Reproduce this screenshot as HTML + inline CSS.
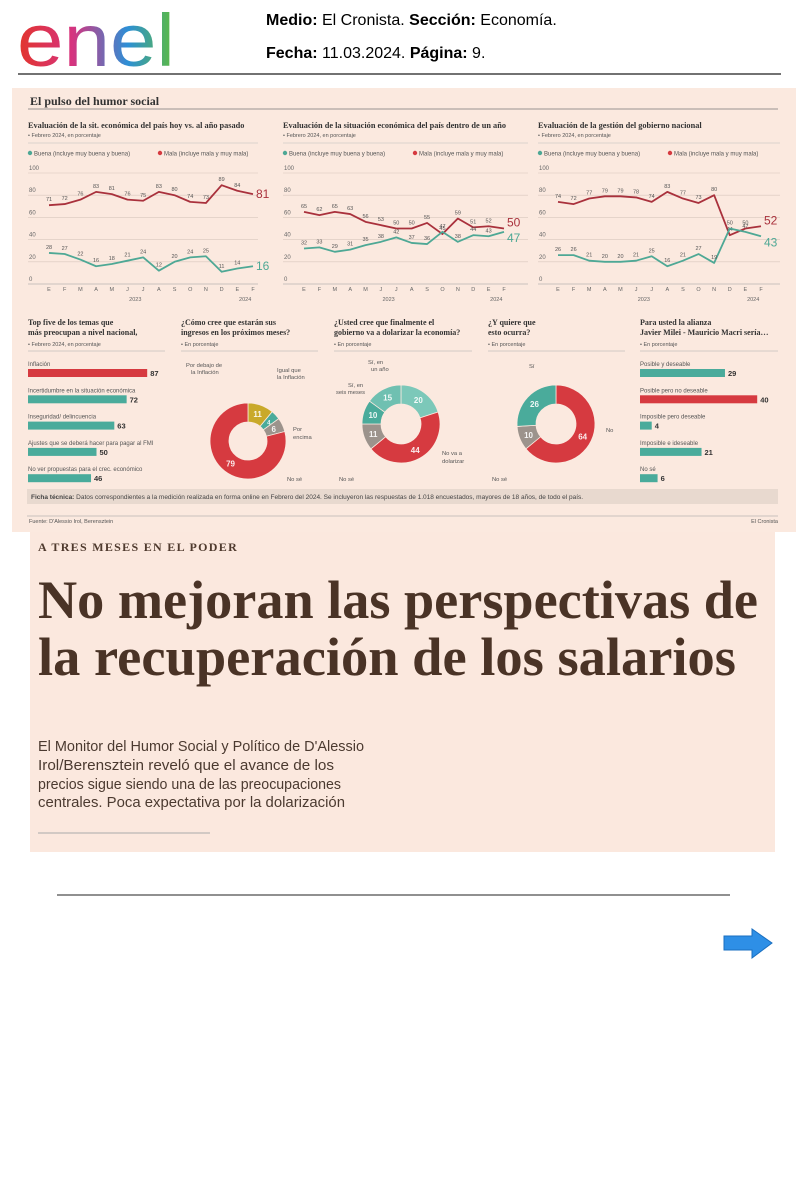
<!DOCTYPE html>
<html><head><meta charset="utf-8"><style>
html,body{margin:0;padding:0;background:#fff;}
body{width:800px;height:1200px;position:relative;overflow:hidden;font-family:"Liberation Sans",sans-serif;}
svg{position:absolute;left:0;top:0;}
</style></head><body>
<svg id="s" width="800" height="1200" viewBox="0 0 800 1200">
<defs>
<linearGradient id="eg" x1="0" x2="1" y1="0" y2="0">
<stop offset="0" stop-color="#e2352b"/><stop offset="0.35" stop-color="#d6337f"/><stop offset="0.7" stop-color="#2d8fd6"/><stop offset="1" stop-color="#5ebc3e"/></linearGradient>
</defs>
<g>
<text x="17" y="66" font-family="Liberation Sans, sans-serif" font-size="74" fill="url(#eg)" textLength="158" lengthAdjust="spacingAndGlyphs">enel</text>
<text x="266" y="25" font-size="16" fill="#000"><tspan font-weight="bold">Medio:</tspan> El Cronista.  <tspan font-weight="bold">Sección:</tspan> Economía.</text>
<text x="266" y="58" font-size="16" fill="#000"><tspan font-weight="bold">Fecha:</tspan> 11.03.2024.  <tspan font-weight="bold">Página:</tspan> 9.</text>
<line x1="18" y1="74" x2="781" y2="74" stroke="#444" stroke-width="1.5"/>
</g>
<rect x="12" y="88" width="784" height="444" fill="#fbe9df"/>
<text x="30" y="105" font-family="Liberation Serif, serif" font-weight="bold" font-size="12" fill="#333">El pulso del humor social</text>
<line x1="28" y1="109" x2="778" y2="109" stroke="#777" stroke-width="0.8"/>
<g id="charts"></g>
<rect x="27" y="489" width="751" height="15" fill="#e8d9cf"/>
<text x="31" y="499" font-size="6.5" fill="#444"><tspan font-weight="bold">Ficha técnica:</tspan> Datos correspondientes a la medición realizada en forma online en Febrero del 2024. Se incluyeron las respuestas de 1.018 encuestados, mayores de 18 años, de todo el país.</text>
<line x1="27" y1="516" x2="778" y2="516" stroke="#999" stroke-width="0.6"/>
<text x="29" y="523" font-size="5.5" fill="#555">Fuente: D'Alessio Irol, Berensztein</text>
<text x="778" y="523" font-size="5.5" fill="#555" text-anchor="end">El Cronista</text>
<rect x="30" y="532" width="745" height="320" fill="#fbe8de"/>
<text x="38" y="551" font-family="Liberation Serif, serif" font-weight="bold" font-size="12" fill="#4f3a2e" letter-spacing="1.3">A TRES MESES EN EL PODER</text>
<g font-family="Liberation Serif, serif" font-weight="bold" fill="#4a3326">
<text x="38" y="618" font-size="54" textLength="720" lengthAdjust="spacingAndGlyphs">No mejoran las perspectivas de</text>
<text x="38" y="675" font-size="54" textLength="698" lengthAdjust="spacingAndGlyphs">la recuperación de los salarios</text>
</g>
<g font-family="Liberation Sans, sans-serif" font-size="15" fill="#4b3a30">
<text x="38" y="751" textLength="326" lengthAdjust="spacingAndGlyphs">El Monitor del Humor Social y Político de D'Alessio</text>
<text x="38" y="770" textLength="296" lengthAdjust="spacingAndGlyphs">Irol/Berensztein reveló que el avance de los</text>
<text x="38" y="789" textLength="303" lengthAdjust="spacingAndGlyphs">precios sigue siendo una de las preocupaciones</text>
<text x="38" y="807" textLength="307" lengthAdjust="spacingAndGlyphs">centrales. Poca expectativa por la dolarización</text>
</g>
<line x1="38" y1="833" x2="210" y2="833" stroke="#aaa" stroke-width="1"/>
<line x1="57" y1="895" x2="730" y2="895" stroke="#222" stroke-width="1"/>
<path d="M724,936 L752,936 L752,929 L772,943 L752,958 L752,950 L724,950 Z" fill="#2e8fe6" stroke="#1a6fc0" stroke-width="1"/>
</svg>
<script>
const months = ["E","F","M","A","M","J","J","A","S","O","N","D","E","F"];
const yTicks = [0,20,40,60,80,100];
const c1Title = "Evaluación de la sit. económica del país hoy vs. al año pasado";
const c1Buena = [28,27,22,16,18,21,24,12,20,24,25,11,14,16];
const c1Mala = [71,72,76,83,81,76,75,83,80,74,73,89,84,81];
const c2Title = "Evaluación de la situación económica del país dentro de un año";
const c2Buena = [32,33,29,31,35,38,42,37,36,47,38,44,43,47];
const c2Mala = [65,62,65,63,56,53,50,50,55,45,59,51,52,50];
const c3Title = "Evaluación de la gestión del gobierno nacional";
const c3Buena = [26,26,21,20,20,21,25,16,21,27,19,50,47,43];
const c3Mala = [74,72,77,79,79,78,74,83,77,73,80,44,50,52];
const topLabels = ["Inflación","Incertidumbre en la situación económica","Inseguridad/ delincuencia","Ajustes que se deberá hacer para pagar al FMI","No ver propuestas para el crec. económico"];
const topValues = [87,72,63,50,46];
const ingresosLabels = ["Igual que la inflación","Por encima","No sé","Por debajo de la inflación"];
const ingresosValues = [11,4,6,79];
const dolarLabels = ["Sí, en un año (otro)","No va a dolarizar","No sé","Sí, en seis meses","Sí, en un año"];
const dolarValues = [20,44,11,10,15];
const quiereLabels = ["No","No sé","Sí"];
const quiereValues = [64,10,26];
const alianzaLabels = ["Posible y deseable","Posible pero no deseable","Imposible pero deseable","Imposible e ideseable","No sé"];
const alianzaValues = [29,40,4,21,6];

const NS="http://www.w3.org/2000/svg";
const root=document.getElementById('charts');
const RED="#d63a40", TEAL="#4aab9b", DRED="#a9313c", DTEAL="#4ea895", GRAY="#9c938c", YEL="#c9a92a";
function el(tag,attrs,parent,txt){const e=document.createElementNS(NS,tag);for(const k in attrs)e.setAttribute(k,attrs[k]);if(txt!==undefined)e.textContent=txt;(parent||root).appendChild(e);return e;}

function lineChart(name,gx0,gx1,x0,x1,title,buena,mala){
  const g=el('g',{});
  
  
  const y=v=>284-1.11*v;
  const x=i=>x0+i*(x1-x0)/(months.length-1);
  el('text',{x:gx0,y:128,'font-family':'Liberation Serif, serif','font-weight':'bold','font-size':'8.3',fill:'#333'},g,title);
  el('text',{x:gx0,y:137,'font-size':'5.5',fill:'#555'},g,"• Febrero 2024, en porcentaje");
  el('line',{x1:gx0,x2:gx1,y1:143,y2:143,stroke:'#bbb','stroke-width':0.5},g);
  el('circle',{cx:gx0+2,cy:153,r:2.2,fill:DTEAL},g);
  el('text',{x:gx0+6,y:155.5,'font-size':'6',fill:'#555'},g,"Buena (incluye muy buena y buena)");
  el('circle',{cx:gx0+132,cy:153,r:2.2,fill:RED},g);
  el('text',{x:gx0+136,y:155.5,'font-size':'6',fill:'#555'},g,"Mala (incluye mala y muy mala)");
  yTicks.forEach(t=>{
    el('line',{x1:gx0,x2:gx1,y1:y(t),y2:y(t),stroke:t===0?'#999':'#d8c8be','stroke-width':0.6},g);
    el('text',{x:gx0+1,y:y(t)-3,'font-size':'6',fill:'#666'},g,String(t));
  });
  months.forEach((m,i)=>el('text',{x:x(i),y:291,'font-size':'5.5',fill:'#666','text-anchor':'middle'},g,m));
  el('text',{x:(x(0)+x(11))/2,y:301,'font-size':'5.5',fill:'#666','text-anchor':'middle'},g,"2023");
  el('text',{x:x(12.5),y:301,'font-size':'5.5',fill:'#666','text-anchor':'middle'},g,"2024");
  const n=mala.length-1;
  [[mala,DRED,buena],[buena,DTEAL,mala]].forEach(([arr,col,other])=>{
    const p=el('polyline',{points:arr.map((v,i)=>x(i)+','+y(v)).join(' '),fill:'none',stroke:col,'stroke-width':1.8,'stroke-linejoin':'round'},g);
    
    
    arr.forEach((v,i)=>{
      if(i===n){
        const hi=v>=other[n];
        const close=Math.abs(v-other[n])<12;
        const dy=close?(hi?-2:10):4;
        el('text',{x:x(i)+3,y:y(v)+dy,'font-size':'12',fill:col},g,String(v));
      }
      else el('text',{x:x(i),y:y(v)-4,'font-size':'5.5',fill:'#555','text-anchor':'middle'},g,String(v));
    });
  });
}
lineChart('chart-sit-economica-hoy',28,258,49,253,c1Title,c1Buena,c1Mala);
lineChart('chart-sit-economica-futuro',283,528,304,504,c2Title,c2Buena,c2Mala);
lineChart('chart-gestion-gobierno',538,780,558,761,c3Title,c3Buena,c3Mala);

function panelHead(x0,x1,l1,l2,sub){
  el('text',{x:x0,y:325,'font-family':'Liberation Serif, serif','font-weight':'bold','font-size':'8',fill:'#333'},root,l1);
  el('text',{x:x0,y:335,'font-family':'Liberation Serif, serif','font-weight':'bold','font-size':'8',fill:'#333'},root,l2);
  el('text',{x:x0,y:346,'font-size':'5.5',fill:'#555'},root,sub);
  el('line',{x1:x0,x2:x1,y1:351,y2:351,stroke:'#aaa','stroke-width':0.5});
}
function barPanel(name,x0,x1,labels,values,scale,redIdx){
  const g=el('g',{});
  
  
  labels.forEach((l,i)=>{
    const yy=362+i*26.3;
    el('text',{x:x0,y:yy+4,'font-size':'6',fill:'#555'},g,l);
    const b=el('rect',{x:x0,y:yy+7,width:values[i]*scale,height:8,fill:i===redIdx?RED:TEAL},g);
    
    
    el('text',{x:x0+values[i]*scale+3,y:yy+14,'font-size':'7.5','font-weight':'bold',fill:'#333'},g,String(values[i]));
  });
}
panelHead(28,165,"Top five de los temas que","más preocupan a nivel nacional,","• Febrero 2024, en porcentaje");
barPanel('chart-top-five',28,165,topLabels,topValues,1.37,0);
panelHead(181,318,"¿Cómo cree que estarán sus","ingresos en los próximos meses?","• En porcentaje");
panelHead(334,472,"¿Usted cree que finalmente el","gobierno va a dolarizar la economía?","• En porcentaje");
panelHead(488,625,"¿Y quiere que","esto ocurra?","• En porcentaje");
panelHead(640,778,"Para usted la alianza","Javier Milei - Mauricio Macri sería…","• En porcentaje");
barPanel('chart-alianza',640,778,alianzaLabels,alianzaValues,2.93,1);

function donut(name,cx,cy,R,r,values,colors){
  const g=el('g',{});
  
  
  const tot=values.reduce((a,b)=>a+b,0);let a=-Math.PI/2;
  values.forEach((v,i)=>{
    const a2=a+v/tot*2*Math.PI,lg=(a2-a)>Math.PI?1:0;
    const P=(rr,an)=>(cx+rr*Math.cos(an)).toFixed(2)+','+(cy+rr*Math.sin(an)).toFixed(2);
    const s=el('path',{d:`M${P(R,a)} A${R},${R} 0 ${lg} 1 ${P(R,a2)} L${P(r,a2)} A${r},${r} 0 ${lg} 0 ${P(r,a)} Z`,fill:colors[i],stroke:'#fbe9df','stroke-width':0.8},g);
    
    
    const m=(a+a2)/2,rm=(R+r)/2;
    el('text',{x:cx+rm*Math.cos(m),y:cy+rm*Math.sin(m)+3,'font-size':v<6?'6':'8','font-weight':'bold',fill:'#fff','text-anchor':'middle','fill-opacity':0.9},g,String(v));
    a=a2;
  });
}
donut('donut-ingresos',248,441,38,19,ingresosValues,[YEL,TEAL,GRAY,RED]);
donut('donut-dolarizar',401,424,39,20,dolarValues,["#7cc8b9",RED,GRAY,TEAL,"#6fc0b1"]);
donut('donut-quiere',556,424,39,20,quiereValues,[RED,GRAY,TEAL]);

const ann=[[186,367,"Por debajo de"],[191,374,"la Inflación"],[277,372,"Igual que"],[277,379,"la Inflación"],[293,431,"Por"],[293,439,"encima"],[287,481,"No sé"],
[368,364,"Sí, en"],[371,371,"un año"],[348,387,"Sí, en"],[336,394,"seis meses"],[442,455,"No va a"],[442,463,"dolarizar"],[339,481,"No sé"],
[529,368,"Sí"],[606,432,"No"],[492,481,"No sé"]];
ann.forEach(([x,y,t])=>{const e=el('text',{x:x,y:y,'font-size':'5.8',fill:'#555'},root,t);});
</script>
</body></html>
